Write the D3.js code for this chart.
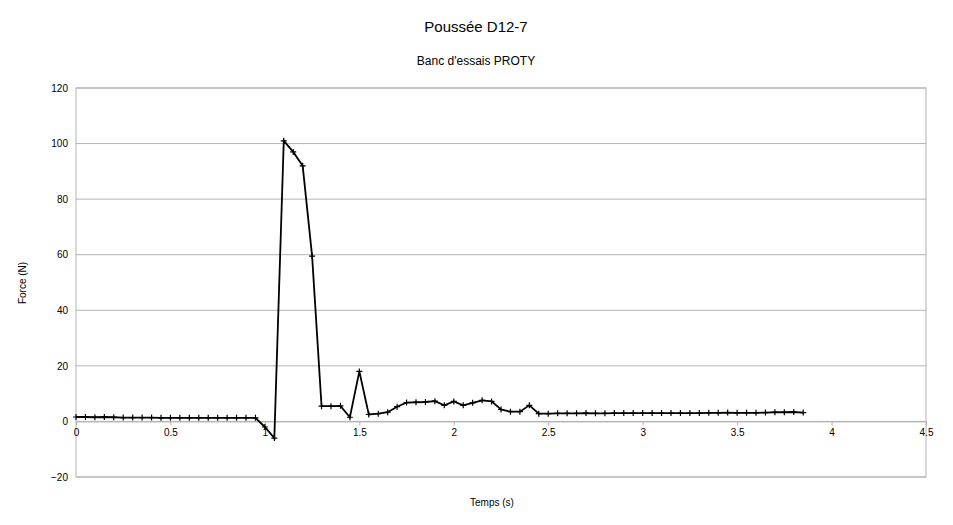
<!DOCTYPE html>
<html>
<head>
<meta charset="utf-8">
<script src="https://cdn.jsdelivr.net/npm/d3@7"></script>
<style>
  body { margin: 0; background: #fff; font-family: "Liberation Sans", Arial, sans-serif; }
  .grid line { stroke: #b3b3b3; }
  .axis text { font-size: 10px; fill: #000; }
</style>
</head>
<body>
<svg id="chart" width="953" height="525"></svg>
<script>
const title = 'Poussée D12-7';
const subtitle = "Banc d'essais PROTY";
const xLabel = 'Temps (s)';
const yLabel = 'Force (N)';
const xTicks = [0, 0.5, 1, 1.5, 2, 2.5, 3, 3.5, 4, 4.5];
const yTicks = [-20, 0, 20, 40, 60, 80, 100, 120];
// one sample every 0.05 s from 0 to 3.85 s
const force = [
  1.6, 1.6, 1.5, 1.6, 1.5, 1.4, 1.4, 1.4, 1.4, 1.3,
  1.3, 1.3, 1.3, 1.3, 1.3, 1.3, 1.3, 1.3, 1.3, 1.3,
  -2.0, -6.0, 101, 97, 92, 59.5, 5.5, 5.5, 5.6, 1.5,
  18, 2.5, 2.8, 3.3, 5.3, 6.8, 6.9, 7.0, 7.3, 5.8,
  7.2, 5.8, 6.7, 7.6, 7.2, 4.3, 3.5, 3.5, 5.8, 2.8,
  2.8, 2.9, 2.9, 2.9, 3.0, 2.9, 2.9, 3.0, 3.0, 3.0,
  3.0, 3.0, 3.0, 3.0, 3.0, 3.0, 3.0, 3.1, 3.1, 3.2,
  3.1, 3.1, 3.1, 3.2, 3.3, 3.3, 3.4, 3.2
];
const times = force.map((_, i) => i * 0.05);

const svg = d3.select('#chart');
const plotLeft = 76, plotRight = 926, plotTop = 88, plotBottom = 477;

const x = d3.scaleLinear().domain([0, 4.5]).range([plotLeft, plotRight]);
const y = d3.scaleLinear().domain([-20, 120]).range([plotBottom, plotTop]);

svg.append('text').attr('x', 476).attr('y', 32).attr('text-anchor', 'middle')
  .style('font-size', '15px').text(title);
svg.append('text').attr('x', 476).attr('y', 65).attr('text-anchor', 'middle')
  .style('font-size', '12px').text(subtitle);
svg.append('text').attr('x', 492).attr('y', 506).attr('text-anchor', 'middle')
  .style('font-size', '10px').text(xLabel);
svg.append('text').attr('transform', 'translate(26,283) rotate(-90)').attr('text-anchor', 'middle')
  .style('font-size', '10px').text(yLabel);

svg.append('g').attr('class', 'grid').selectAll('line').data(yTicks).join('line')
  .attr('x1', plotLeft).attr('x2', plotRight).attr('y1', d => y(d)).attr('y2', d => y(d));
svg.append('rect').attr('x', plotLeft).attr('y', plotTop)
  .attr('width', plotRight - plotLeft).attr('height', plotBottom - plotTop)
  .attr('fill', 'none').attr('stroke', '#b3b3b3');

// x axis sits on the zero line
svg.append('g').attr('class', 'axis').attr('transform', `translate(0,${y(0)})`)
  .call(d3.axisBottom(x).tickValues(xTicks).tickSize(4).tickFormat(d3.format('')))
  .call(g => g.select('.domain').attr('stroke', '#b3b3b3'))
  .call(g => g.selectAll('.tick line').attr('stroke', '#b3b3b3'));
svg.append('g').attr('class', 'axis').attr('transform', `translate(${plotLeft},0)`)
  .call(d3.axisLeft(y).tickValues(yTicks).tickSize(0).tickPadding(8))
  .call(g => g.select('.domain').remove());

const pts = times.map((t, i) => [t, force[i]]);
svg.append('path').datum(pts)
  .attr('fill', 'none').attr('stroke', '#000').attr('stroke-width', 1.8)
  .attr('d', d3.line().x(d => x(d[0])).y(d => y(d[1])));
svg.append('g').selectAll('path').data(pts).join('path')
  .attr('d', d => `M${x(d[0]) - 3},${y(d[1])}h6M${x(d[0])},${y(d[1]) - 3}v6`)
  .attr('stroke', '#000').attr('stroke-width', 1.2);
</script>
</body>
</html>
